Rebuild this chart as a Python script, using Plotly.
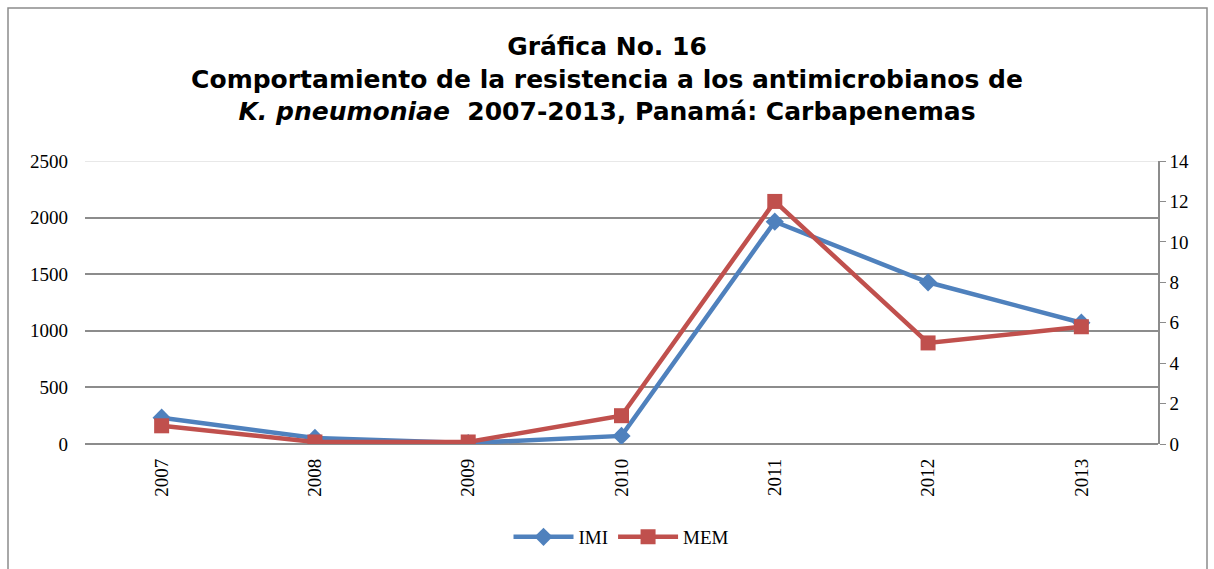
import plotly.graph_objects as go

years = ["2007", "2008", "2009", "2010", "2011", "2012", "2013"]
imi = [1.3, 0.3, 0.05, 0.4, 11.0, 8.0, 6.0]
mem = [0.9, 0.1, 0.1, 1.4, 12.0, 5.0, 5.8]
left_ticks = [0, 500, 1000, 1500, 2000, 2500]
right_ticks = [0, 2, 4, 6, 8, 10, 12, 14]

blue = "#4F81BD"
red = "#C0504D"

fig = go.Figure()
fig.add_trace(go.Scatter(x=years, y=imi, name="IMI", mode="lines+markers", yaxis="y2",
                         line=dict(color=blue, width=4.5),
                         marker=dict(symbol="diamond", size=14, color=blue)))
fig.add_trace(go.Scatter(x=years, y=mem, name="MEM", mode="lines+markers", yaxis="y2",
                         line=dict(color=red, width=4.5),
                         marker=dict(symbol="square", size=15, color=red)))

L, R, T, B = 85, 56, 161, 125
W, H = 1214, 569
pw, ph = W - L - R, H - T - B

fig.update_layout(
    width=W, height=H,
    margin=dict(l=L, r=R, t=T, b=B),
    paper_bgcolor="white", plot_bgcolor="white",
    title=dict(
        text="<b>Gráfica No. 16<br>Comportamiento de la resistencia a los antimicrobianos de<br><i>K. pneumoniae</i>  2007-2013, Panamá: Carbapenemas</b>",
        x=0.5, xanchor="center", y=1 - 55 / H, yanchor="top",
        font=dict(family="DejaVu Sans", size=25, color="black"),
    ),
    font=dict(family="Liberation Serif, Times New Roman", size=19, color="black"),
    xaxis=dict(type="category", tickangle=-90, showgrid=False, showline=False,
               ticks="", tickfont=dict(size=19), range=[-0.5, 6.5],
               ticklabelstandoff=10),
    yaxis=dict(range=[0, 2500], tickvals=left_ticks, showgrid=True, gridcolor="#8c8c8c",
               gridwidth=1.5, zeroline=True, zerolinecolor="#8c8c8c", zerolinewidth=1.5,
               showline=False, ticks="", tickfont=dict(size=19), ticklabelstandoff=16),
    yaxis2=dict(range=[0, 14], tickvals=right_ticks, overlaying="y", side="right",
                showgrid=False, zeroline=False, showline=True, linecolor="#8c8c8c",
                linewidth=1.5, ticks="outside", ticklen=6, tickcolor="#8c8c8c",
                tickfont=dict(size=19)),
    legend=dict(orientation="h", x=0.5, xanchor="center", y=-(537 - 444) / ph,
                yanchor="middle", font=dict(size=19), itemwidth=60),
    showlegend=True,
)

# light top gridline
fig.add_shape(type="line", xref="paper", yref="y", x0=0, x1=1, y0=2500, y1=2500,
              line=dict(color="#e0e0e0", width=1.5), layer="above")
# outer chart border
fig.add_shape(type="rect", xref="paper", yref="paper",
              x0=(8 - L) / pw, x1=(1207 - L) / pw,
              y0=(T + ph - 575) / ph, y1=(T + ph - 8) / ph,
              line=dict(color="#8c8c8c", width=1.5), layer="below")

fig.write_html("out.html", config={"displayModeBar": False},
               post_script="document.body.style.margin='0';document.body.style.overflow='hidden';")
